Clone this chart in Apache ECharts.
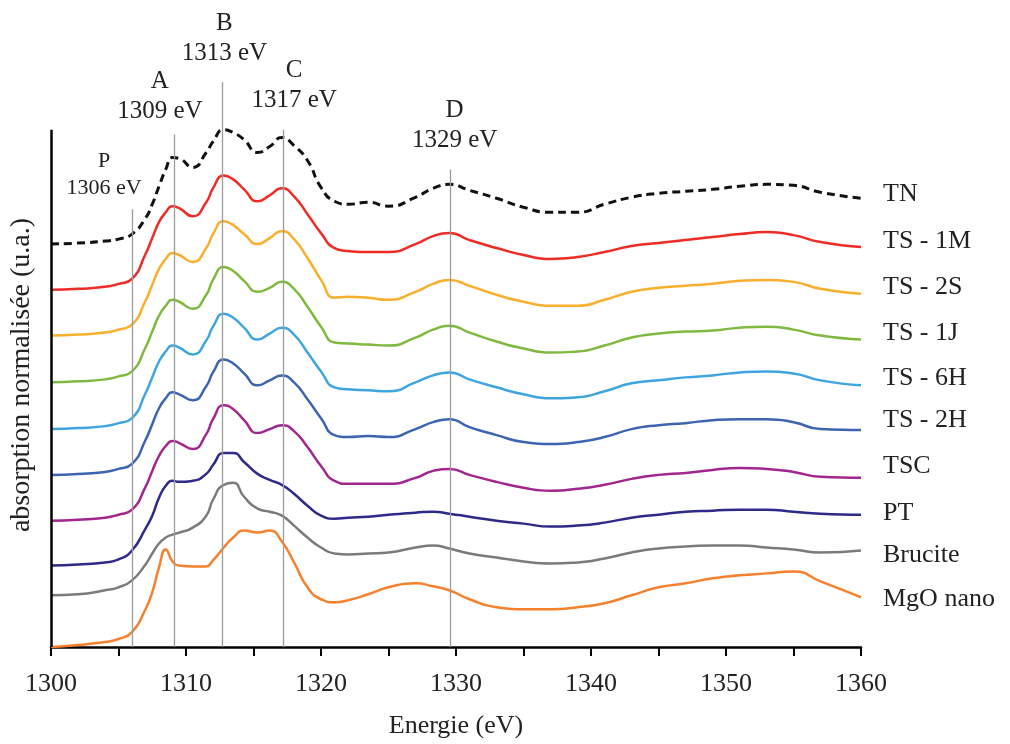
<!DOCTYPE html>
<html><head><meta charset="utf-8">
<script src="https://cdn.jsdelivr.net/npm/echarts@6/dist/echarts.min.js"></script>
<style>html,body{margin:0;padding:0;background:#fff}#c{width:1010px;height:744px}</style>
</head><body><div id="c"></div>
<script>
// Energy grid (eV)
const energy = [1300, 1302, 1304, 1305, 1306, 1307, 1307.5, 1308, 1308.5, 1309, 1309.5, 1310.5, 1311.5, 1312, 1312.8, 1313.5, 1314.3, 1315.3, 1316.2, 1317.1, 1318, 1319, 1320, 1321, 1322, 1323.5, 1325, 1327, 1328.3, 1329.5, 1331, 1333, 1335, 1337, 1339, 1341, 1343, 1345, 1347, 1349, 1351, 1353, 1355, 1357, 1360];

// Normalised absorption (each spectrum relative to its own baseline)
const absTN      = [0, .01, .03, .05, .10, .26, .40, .58, .75, .87, .86, .77, .92, 1.03, 1.15, 1.12, 1.05, .92, .98, 1.07, .99, .84, .57, .43, .40, .42, .38, .47, .56, .60, .54, .46, .37, .32, .32, .40, .47, .51, .53, .55, .58, .60, .59, .52, .46];
const absTS1M    = [0, .01, .03, .06, .11, .36, .52, .68, .78, .84, .82, .74, .88, 1.02, 1.15, 1.11, 1.01, .89, .95, 1.02, .94, .76, .57, .42, .39, .38, .38, .46, .54, .57, .50, .42, .35, .31, .33, .38, .44, .47, .50, .53, .56, .58, .55, .48, .43];
const absTS2S    = [0, .01, .03, .06, .11, .35, .51, .67, .77, .83, .81, .74, .88, 1.02, 1.15, 1.11, 1.02, .92, .98, 1.05, .97, .78, .56, .38, .39, .38, .36, .44, .52, .56, .50, .41, .34, .30, .30, .36, .44, .48, .50, .52, .55, .56, .54, .47, .42];
const absTS1J    = [0, .01, .03, .06, .11, .35, .51, .67, .77, .83, .81, .74, .88, 1.03, 1.16, 1.12, 1.02, .91, .95, 1.01, .94, .76, .56, .40, .39, .38, .37, .45, .53, .57, .50, .41, .34, .30, .31, .37, .45, .49, .51, .52, .55, .56, .53, .47, .43];
const absTS6H    = [0, .01, .03, .06, .11, .36, .52, .68, .78, .84, .82, .75, .89, 1.03, 1.16, 1.12, 1.02, .90, .96, 1.02, .95, .77, .58, .42, .40, .39, .38, .47, .54, .57, .50, .42, .35, .31, .32, .38, .46, .49, .52, .54, .57, .58, .56, .49, .44];
const absTS2H    = [0, .01, .03, .06, .11, .35, .51, .67, .77, .83, .81, .75, .89, 1.03, 1.16, 1.12, 1.02, .90, .95, 1.00, .93, .76, .57, .40, .38, .39, .38, .46, .53, .56, .48, .40, .33, .31, .33, .38, .46, .50, .52, .55, .56, .56, .53, .46, .45];
const absTSC     = [0, .01, .03, .06, .11, .34, .50, .65, .75, .80, .78, .72, .87, 1.02, 1.16, 1.12, 1.01, .88, .92, .96, .90, .74, .55, .40, .37, .37, .37, .43, .50, .52, .46, .39, .33, .30, .32, .36, .42, .46, .48, .51, .53, .52, .49, .44, .43];
const absPT      = [0, .01, .03, .06, .15, .37, .50, .68, .80, .85, .84, .85, .92, 1.01, 1.13, 1.13, 1.04, .92, .86, .81, .72, .60, .50, .47, .48, .49, .51, .53, .54, .52, .49, .45, .42, .39, .40, .43, .48, .51, .54, .55, .56, .56, .54, .52, .51];
const absBrucite = [0, .01, .05, .08, .15, .31, .42, .52, .58, .61, .63, .68, .80, .96, 1.11, 1.13, .99, .87, .84, .80, .70, .58, .48, .42, .41, .42, .43, .48, .50, .47, .42, .38, .34, .32, .33, .37, .43, .47, .49, .50, .50, .48, .46, .43, .45];
const absMgO     = [0, .02, .05, .08, .15, .38, .55, .80, .98, .86, .82, .81, .81, .87, 1.00, 1.10, 1.17, 1.15, 1.17, 1.06, .85, .60, .48, .45, .47, .53, .60, .64, .61, .57, .48, .40, .38, .38, .40, .44, .52, .60, .64, .69, .72, .74, .76, .66, .50];

const seriesNames = ['TN', 'TS - 1M', 'TS - 2S', 'TS - 1J', 'TS - 6H', 'TS - 2H', 'TSC', 'PT', 'Brucite', 'MgO nano'];
const spectra = [absTN, absTS1M, absTS2S, absTS1J, absTS6H, absTS2H, absTSC, absPT, absBrucite, absMgO];
// Vertical offsets of the stacked spectra
const offsets = [4.05, 3.59, 3.13, 2.66, 2.19, 1.73, 1.27, 0.82, 0.52, 0.00];

// Reference peaks
const peakNames = ['P', 'A', 'B', 'C', 'D'];
const peakTexts = ['1306 eV', '1309 eV', '1313 eV', '1317 eV', '1329 eV'];
const peakLinePositions = [1306, 1309.1, 1312.7, 1317.2, 1329.6];
const peakLineTops = [4.40, 5.15, 5.68, 5.20, 4.80];

// X ticks
const xMin = 1300, xMax = 1360, xTickStep = 5;
const yTop = 5.2;

// ---- styling ----
const FONT = 'Liberation Serif';
const colors = ['#111111', '#ee2b25', '#f9ae2c', '#80b940', '#3fa5df', '#3d64b0', '#a1268e', '#2d2a88', '#7b7b7b', '#f5802e'];
const labelDy = [-4, -6, -7, -6, -7, -10, -12, -2, 5, 2];
const peakLabelLayout = [
  {dx: -28, dist: 8, size: 22},
  {dx: -14, dist: 8, size: 25},
  {dx: 2, dist: 13, size: 25},
  {dx: 11, dist: 14, size: 25},
  {dx: 4, dist: 14, size: 25}
];

const series = spectra.map((vals, i) => ({
  name: seriesNames[i],
  type: 'line',
  smooth: 0.55,
  symbol: 'none',
  z: 3,
  data: energy.map((e, k) => [e, +(vals[k] + offsets[i]).toFixed(3)]),
  lineStyle: {
    color: colors[i],
    width: i === 0 ? 3 : 2.5,
    type: i === 0 ? [8, 5] : 'solid'
  },
  endLabel: {
    show: true,
    formatter: seriesNames[i],
    distance: 22,
    offset: [0, labelDy[i]],
    fontFamily: FONT,
    fontSize: 26,
    color: '#222'
  }
}));

// reference lines + y axis line drawn as mark lines
const markData = peakLinePositions.map((x, i) => [
  {
    coord: [x, 0],
    lineStyle: {color: '#9c9c9c', width: 1.3, type: 'solid'},
    label: {
      show: true,
      position: 'end',
      formatter: peakNames[i] + '\n' + peakTexts[i],
      distance: peakLabelLayout[i].dist,
      offset: [peakLabelLayout[i].dx, 0],
      fontFamily: FONT,
      fontSize: peakLabelLayout[i].size,
      lineHeight: peakLabelLayout[i].size + 5,
      color: '#222',
      align: 'center'
    }
  },
  {coord: [x, peakLineTops[i]]}
]);
markData.push([
  {coord: [xMin, 0], lineStyle: {color: '#000', width: 2.5, type: 'solid'}, label: {show: false}},
  {coord: [xMin, yTop]}
]);

series.unshift({
  name: 'refs',
  type: 'line',
  data: [],
  z: 1,
  markLine: {
    silent: true,
    symbol: ['none', 'none'],
    animation: false,
    data: markData
  }
});

const chart = echarts.init(document.getElementById('c'));
chart.setOption({
  animation: false,
  backgroundColor: '#fff',
  grid: {left: 51, right: 149, top: 60, bottom: 94},
  xAxis: {
    type: 'value',
    min: xMin, max: xMax, interval: xTickStep,
    name: 'Energie (eV)',
    nameLocation: 'middle',
    nameGap: 66,
    nameTextStyle: {fontFamily: FONT, fontSize: 26, color: '#222'},
    axisLine: {show: true, lineStyle: {color: '#000', width: 2.5}},
    axisTick: {show: true, length: 9, lineStyle: {color: '#000', width: 2}},
    axisLabel: {
      fontFamily: FONT, fontSize: 26, color: '#222', margin: 24,
      formatter: v => (v % 10 === 0 ? String(v) : '')
    },
    splitLine: {show: false}
  },
  yAxis: {
    type: 'value',
    min: 0, max: 5.9,
    axisLine: {show: false},
    axisTick: {show: false},
    axisLabel: {show: false},
    splitLine: {show: false}
  },
  graphic: [{
    type: 'text',
    x: 22, y: 375,
    rotation: Math.PI / 2,
    style: {
      text: 'absorption normalisée (u.a.)',
      fontFamily: FONT, fontSize: 28, fill: '#222',
      align: 'center', verticalAlign: 'middle'
    }
  }],
  series: series
});
</script>
</body></html>
